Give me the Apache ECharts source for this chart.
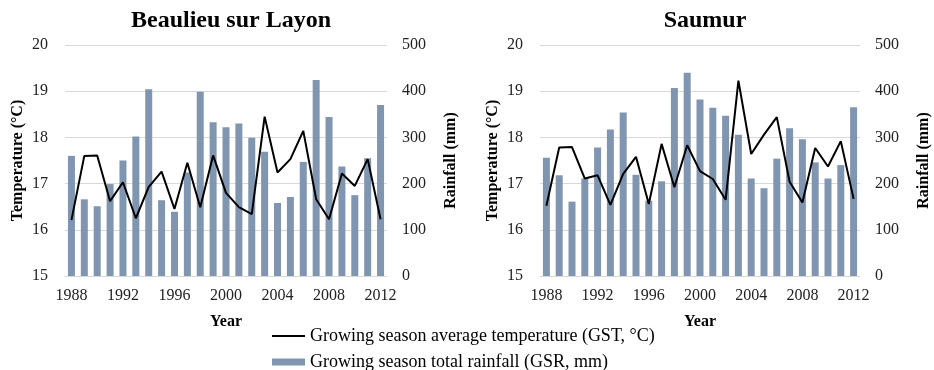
<!DOCTYPE html>
<html><head><meta charset="utf-8">
<script src="https://cdn.jsdelivr.net/npm/echarts@6/dist/echarts.min.js"></script>
<style>html,body{margin:0;padding:0;background:#fff}#c{width:934px;height:370px}</style>
</head><body><div id="c"></div>
<script>
const years = ['1988','1989','1990','1991','1992','1993','1994','1995','1996','1997','1998','1999','2000','2001','2002','2003','2004','2005','2006','2007','2008','2009','2010','2011','2012'];
const beaulieuTemp = [16.21,17.60,17.61,16.62,17.03,16.25,16.93,17.26,16.45,17.45,16.49,17.61,16.80,16.49,16.34,18.45,17.24,17.53,18.14,16.66,16.23,17.22,16.95,17.53,16.23];
const beaulieuRain = [260,166,151,199,250,302,404,164,139,224,399,333,322,330,299,269,158,171,247,424,344,237,175,255,370];
const saumurTemp = [16.52,17.78,17.79,17.11,17.18,16.54,17.21,17.58,16.56,17.86,16.92,17.83,17.27,17.10,16.65,19.23,17.64,18.06,18.44,17.04,16.59,17.77,17.37,17.92,16.67];
const saumurRain = [256,218,161,211,278,317,354,219,163,205,407,440,382,364,347,306,211,190,254,320,296,246,211,240,365];
const titles = ['Beaulieu sur Layon','Saumur'];
const tempName = 'Growing season average temperature (GST, °C)';
const rainName = 'Growing season total rainfall (GSR, mm)';

const FONT = '"Liberation Serif", "Times New Roman", serif';
const gridCol = '#d9d9d9';
const barCol = '#8096b0';
const grids = [{left:65, top:45, width:322, height:231},{left:540, top:45, width:320, height:231}];

const xAxes = [], yAxes = [], series = [], titleArr = [];
const data = [[beaulieuTemp, beaulieuRain],[saumurTemp, saumurRain]];
grids.forEach((g,i)=>{
  titleArr.push({text:titles[i], left:g.left+g.width/2, top:4, textAlign:'center',
    textStyle:{fontFamily:FONT, fontWeight:'bold', fontSize:24, color:'#000'}});
  xAxes.push({type:'category', gridIndex:i, data:years, boundaryGap:true,
    axisTick:{show:false}, axisLine:{lineStyle:{color:gridCol}},
    axisLabel:{interval:3, fontFamily:FONT, fontSize:16, color:'#222', margin:12},
    name:'Year', nameLocation:'middle', nameGap:38,
    nameTextStyle:{fontFamily:FONT, fontWeight:'bold', fontSize:16, color:'#000'}});
  yAxes.push({type:'value', gridIndex:i, min:15, max:20, interval:1, position:'left',
    axisLine:{show:false}, axisTick:{show:false},
    splitLine:{lineStyle:{color:gridCol, width:1}},
    axisLabel:{fontFamily:FONT, fontSize:16, color:'#222', margin:17},
    name:'Temperature (°C)', nameLocation:'middle', nameGap:39, nameRotate:90,
    nameTextStyle:{fontFamily:FONT, fontWeight:'bold', fontSize:16, color:'#000'}});
  yAxes.push({type:'value', gridIndex:i, min:0, max:500, interval:100, position:'right',
    axisLine:{show:false}, axisTick:{show:false}, splitLine:{show:false},
    axisLabel:{fontFamily:FONT, fontSize:16, color:'#222', margin:15},
    name:'Rainfall (mm)', nameLocation:'middle', nameGap:56, nameRotate:90,
    nameTextStyle:{fontFamily:FONT, fontWeight:'bold', fontSize:16, color:'#000'}});
});
grids.forEach((g,i)=>{
  series.push({name:rainName, type:'bar', xAxisIndex:i, yAxisIndex:i*2+1, data:data[i][1],
    barWidth:7, itemStyle:{color:barCol}, z:1});
});
grids.forEach((g,i)=>{
  series.push({name:tempName, type:'line', xAxisIndex:i, yAxisIndex:i*2, data:data[i][0],
    symbol:'none', lineStyle:{color:'#000', width:2}, itemStyle:{color:'#000'}, z:3});
});

const legendText = {fontFamily:FONT, fontSize:18, color:'#000'};
const chart = echarts.init(document.getElementById('c'), null, {renderer:'canvas'});
chart.setOption({
  animation:false,
  backgroundColor:'#fff',
  title:titleArr,
  grid:grids,
  xAxis:xAxes, yAxis:yAxes, series:series,
  legend:[
    {left:267, top:322, itemWidth:33, itemHeight:2, itemGap:5, textStyle:legendText,
     data:[{name:tempName, icon:'rect', itemStyle:{color:'#000'}}]},
    {left:267, top:348, itemWidth:33, itemHeight:7, itemGap:5, textStyle:legendText,
     data:[{name:rainName, icon:'rect'}]}
  ]
});
</script></body></html>
